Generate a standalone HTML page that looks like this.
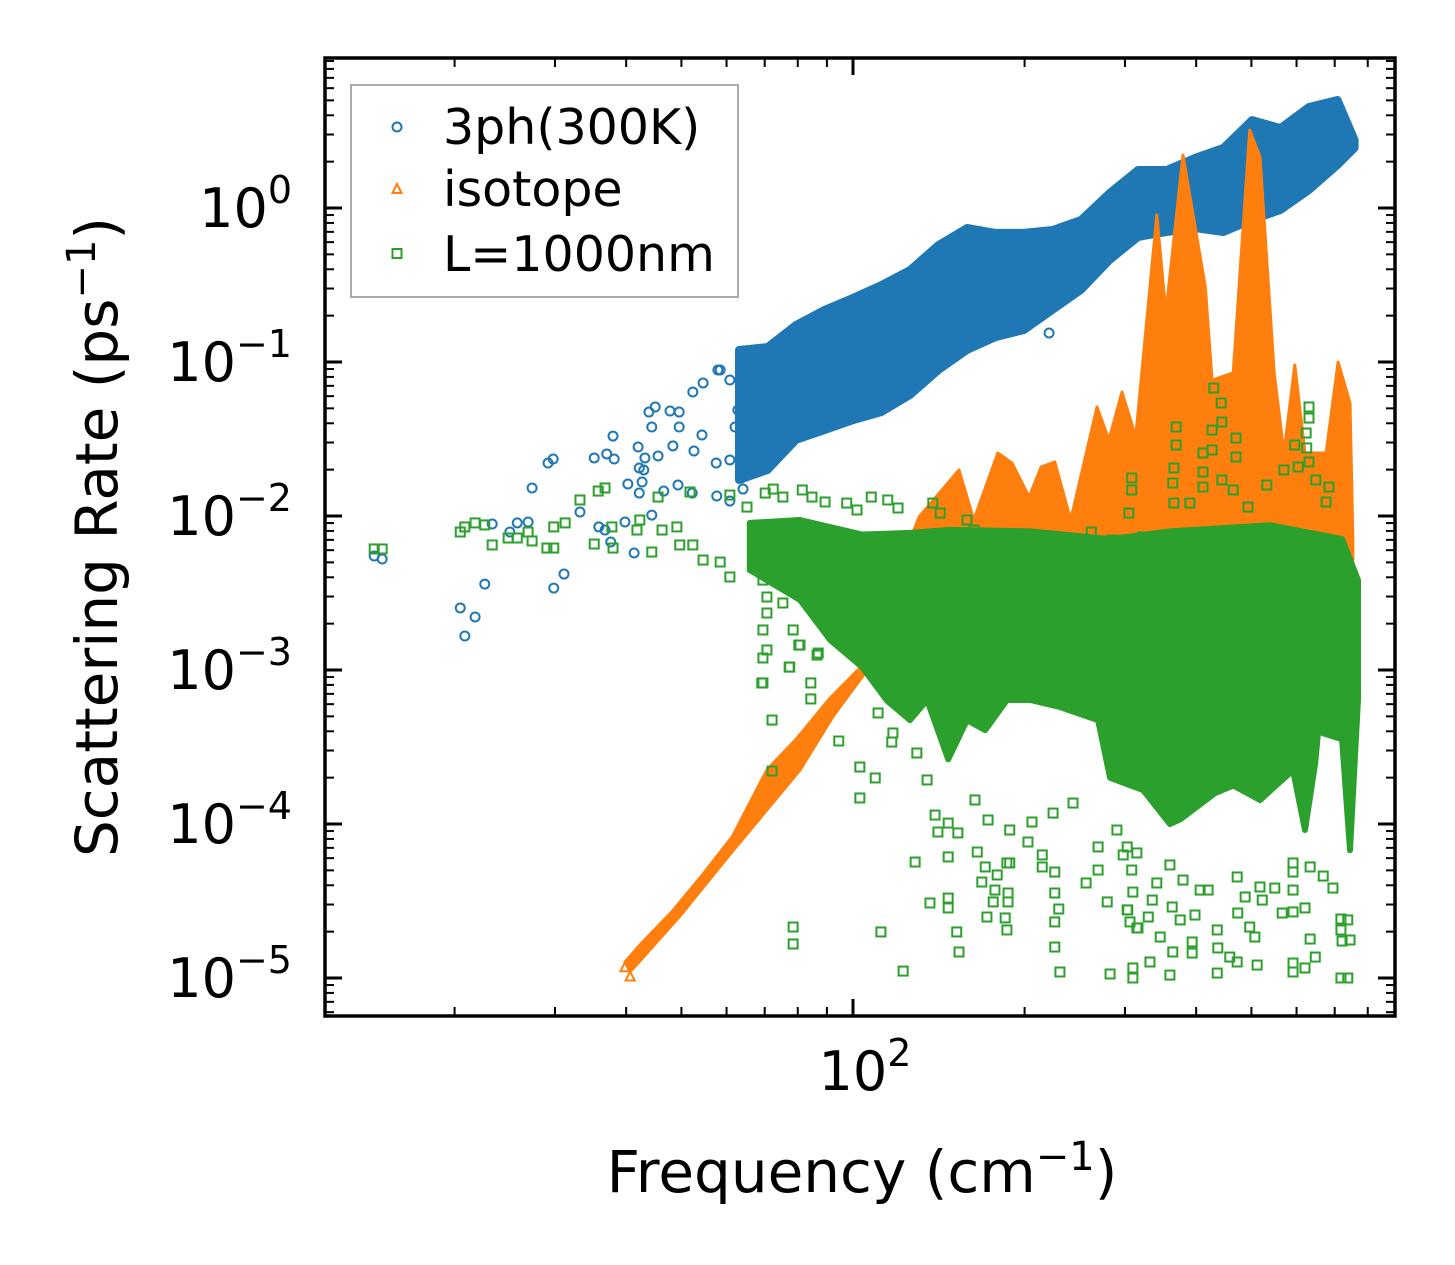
<!DOCTYPE html>
<html><head><meta charset="utf-8"><title>Scattering Rate vs Frequency</title>
<style>
html,body{margin:0;padding:0;background:#fff;}
svg{display:block;font-family:"DejaVu Sans","Liberation Sans",sans-serif;}
</style></head>
<body>
<svg id="chart" xmlns="http://www.w3.org/2000/svg" width="1455" height="1265" viewBox="0 0 1455 1265">
<rect x="0" y="0" width="1455" height="1265" fill="#fff"/>
<defs><clipPath id="clip"><rect x="325" y="58" width="1070" height="958"/></clipPath></defs>
<g id="plot" clip-path="url(#clip)"></g>
<g id="axes"></g>
<text transform="translate(117,537) rotate(-90)" text-anchor="middle" font-size="58" fill="#000">Scattering Rate (ps<tspan font-size="40" dy="-22">−1</tspan><tspan dy="22">)</tspan></text>
<text x="862" y="1192" text-anchor="middle" font-size="58" fill="#000">Frequency (cm<tspan font-size="40" dy="-22">−1</tspan><tspan dy="22">)</tspan></text>
<g>
<rect x="351" y="85" width="387" height="212" fill="#fff" fill-opacity="0.8" stroke="#aaa" stroke-width="2"/>
<g>
<circle cx="397" cy="127" r="4.5" fill="none" stroke="#1f77b4" stroke-width="2"/>
<text x="443" y="144" font-size="49" fill="#000">3ph(300K)</text></g>
<g>
<polygon points="397,184 392.5,193 401.5,193" fill="none" stroke="#ff7f0e" stroke-width="2"/>
<text x="443" y="206" font-size="49" fill="#000">isotope</text></g>
<g>
<rect x="392.5" y="249" width="9" height="9" fill="none" stroke="#2ca02c" stroke-width="2"/>
<text x="443" y="271" font-size="49" fill="#000">L=1000nm</text></g>
</g>
</svg>
<script>
// All values are log10(frequency / cm^-1) and log10(rate / ps^-1)
const yMajorTicks = [-5, -4, -3, -2, -1, 0];
const yTickLabels = ["−5", "−4", "−3", "−2", "−1", "0"];
const xMajorTicks = [2];
const xTickLabels = ["2"];

// 3ph dense band
const blueBandFreq = [1.80,1.85,1.90,1.95,2.00,2.05,2.10,2.15,2.20,2.25,2.30,2.35,2.40,2.45,2.50,2.55,2.60,2.65,2.70,2.75,2.80,2.85,2.88];
const blueBandHigh = [-0.922,-0.903,-0.760,-0.662,-0.584,-0.500,-0.403,-0.240,-0.130,-0.162,-0.162,-0.143,-0.078,0.097,0.247,0.247,0.325,0.390,0.571,0.519,0.656,0.701,0.442];
const blueBandLow = [-1.766,-1.701,-1.506,-1.442,-1.377,-1.325,-1.214,-1.052,-0.922,-0.838,-0.792,-0.662,-0.532,-0.338,-0.188,-0.156,-0.130,-0.156,-0.078,-0.013,0.117,0.279,0.390];
// 3ph individual points
const blueFreq = [1.160,1.174,1.354,1.311,1.337,1.319,1.475,1.493,1.367,1.411,1.430,1.398,1.437,1.465,1.474,1.521,1.546,1.568,1.581,1.579,1.605,1.625,1.630,1.625,1.633,1.623,1.635,1.658,1.647,1.642,1.653,1.679,1.695,1.695,1.684,1.721,1.735,1.737,1.719,1.668,1.693,1.718,1.554,1.565,1.575,1.600,1.616,1.647,1.761,1.784,1.807,1.804,1.819,1.816,1.767,1.784,1.760,1.784,1.793,1.798,1.805,2.296,2.344,1.763];
const blueRate = [-2.260,-2.279,-2.442,-2.597,-2.656,-2.779,-2.468,-2.377,-2.052,-2.045,-2.039,-2.104,-1.818,-1.656,-1.630,-1.974,-1.623,-1.597,-1.630,-1.481,-1.792,-1.851,-1.779,-1.688,-1.701,-1.552,-1.623,-1.610,-1.422,-1.325,-1.292,-1.318,-1.325,-1.422,-1.545,-1.578,-1.474,-1.136,-1.195,-1.838,-1.799,-1.851,-2.071,-2.091,-2.169,-2.039,-2.240,-1.994,-1.870,-1.903,-1.825,-1.753,-1.721,-0.981,-1.052,-1.117,-1.656,-1.636,-1.422,-1.312,-1.227,-0.747,-0.812,-1.052];

// isotope envelope
const orangeUpperFreq = [1.600,1.626,1.682,1.737,1.789,1.849,1.902,1.960,2.012,2.116,2.186,2.212,2.254,2.279,2.309,2.330,2.354,2.382,2.428,2.449,2.472,2.496,2.533,2.549,2.579,2.618,2.630,2.667,2.696,2.714,2.739,2.756,2.775,2.793,2.830,2.851,2.872,2.877];
const orangeUpperRate = [-4.896,-4.786,-4.571,-4.325,-4.078,-3.649,-3.442,-3.182,-2.987,-2.006,-1.701,-2.026,-1.591,-1.656,-1.877,-1.682,-1.649,-2.026,-1.292,-1.506,-1.195,-1.487,-0.045,-0.682,0.344,-0.513,-1.117,-1.071,0.506,0.331,-1.071,-1.591,-1.019,-1.591,-1.591,-1.000,-1.266,-2.156];
const orangeLowerFreq = [2.877,2.616,2.254,2.025,1.965,1.907,1.779,1.696,1.609];
const orangeLowerRate = [-2.286,-2.900,-2.900,-3.000,-3.300,-3.650,-4.220,-4.600,-4.960];
const orangeFreq = [2.863,2.868,1.600,1.609];
const orangeRate = [-2.318,-2.532,-4.930,-4.990];

// L=1000nm dense core
const greenUpperFreq = [1.819,1.907,2.016,2.100,2.170,2.311,2.451,2.556,2.732,2.858,2.886];
const greenUpperRate = [-2.045,-2.026,-2.120,-2.110,-2.090,-2.100,-2.150,-2.100,-2.060,-2.150,-2.416];
const greenLowerFreq = [2.886,2.872,2.858,2.816,2.811,2.793,2.772,2.714,2.667,2.635,2.574,2.556,2.509,2.451,2.430,2.363,2.311,2.270,2.232,2.200,2.167,2.130,2.100,2.060,2.016,1.960,1.907,1.819];
const greenLowerRate = [-3.190,-4.170,-3.450,-3.400,-3.600,-4.039,-3.650,-3.844,-3.750,-3.800,-3.970,-4.000,-3.780,-3.700,-3.325,-3.240,-3.195,-3.195,-3.390,-3.325,-3.580,-3.195,-3.325,-3.200,-2.981,-2.805,-2.545,-2.351];
// L=1000nm individual points
const greenFreq = [1.160,1.174,1.311,1.319,1.337,1.354,1.367,1.395,1.411,1.430,1.437,1.463,1.475,1.475,1.495,1.521,1.553,1.565,1.546,1.577,1.579,1.626,1.621,1.647,1.658,1.665,1.691,1.696,1.714,1.719,1.737,1.767,1.784,1.784,1.814,1.842,1.849,1.849,1.842,1.849,1.842,1.842,1.877,1.895,1.907,1.889,1.937,1.846,1.860,1.877,1.911,1.928,1.951,1.989,
1.840,1.858,1.926,1.926,1.888,1.905,1.939,1.975,1.895,1.895,1.858,
2.044,2.070,2.068,2.012,2.039,2.012,2.112,2.130,2.144,2.167,2.149,2.184,2.167,2.109,2.135,2.167,2.167,2.049,2.182,2.186,2.088,2.218,2.232,2.253,2.226,2.249,2.272,2.246,2.272,2.235,2.267,2.270,2.214,2.237,2.275,2.314,2.307,2.332,2.275,2.332,2.354,2.354,2.361,2.354,2.354,2.363,2.430,2.474,2.430,2.409,2.446,2.451,2.386,2.351,2.463,2.481,2.489,2.491,2.525,2.481,2.486,2.518,2.500,2.539,2.521,2.491,2.491,2.556,2.561,2.574,2.560,2.600,2.595,2.595,2.639,2.640,2.661,2.674,2.639,2.675,2.674,2.623,2.709,2.705,2.696,2.753,2.772,2.793,2.772,2.772,2.793,2.811,2.802,2.772,2.802,2.825,2.842,2.856,2.856,2.858,2.856,2.772,2.772,2.714,2.740,2.718,2.688,2.609,2.579,2.556,2.498,2.533,2.482,2.498,2.270,2.868,2.872,2.868,
2.633,2.646,2.647,2.630,2.672,2.672,2.630,2.614,2.800,2.800,2.795,2.796,2.775,2.800,2.567,2.567,2.563,2.561,2.489,2.489,2.614,2.647,2.726,2.756,2.781,2.812,2.835,2.614,2.667,2.693,2.830,2.563,2.591,2.418,2.454,2.484,2.509,2.140,2.153,2.007,2.032,2.061,2.079,2.200,2.212];
const greenRate = [-2.214,-2.214,-2.104,-2.071,-2.045,-2.058,-2.188,-2.143,-2.143,-2.104,-2.162,-2.208,-2.208,-2.071,-2.045,-1.896,-1.838,-1.818,-2.182,-2.071,-2.208,-2.026,-2.091,-2.234,-1.877,-2.091,-2.071,-2.188,-1.844,-2.188,-2.286,-2.299,-2.396,-1.864,-1.942,-2.416,-2.526,-2.630,-2.740,-2.870,-2.922,-3.084,-2.565,-2.740,-2.838,-2.981,-2.903,-1.851,-1.825,-1.877,-1.831,-1.877,-1.909,-1.916,
-3.084,-3.325,-3.084,-3.188,-2.981,-2.838,-2.890,-3.461,-4.669,-4.779,-3.656,
-3.279,-3.409,-3.468,-3.630,-3.701,-3.831,-3.539,-3.714,-3.942,-3.994,-4.052,-4.058,-4.214,-4.247,-4.513,-4.481,-4.545,-4.701,-4.701,-4.831,-4.955,-4.182,-4.279,-4.331,-4.377,-4.429,-4.448,-4.506,-4.506,-4.604,-4.610,-4.688,-3.844,-3.974,-4.039,-3.987,-4.117,-4.201,-4.253,-4.279,-4.312,-4.448,-4.552,-4.636,-4.799,-4.961,-4.149,-4.201,-4.299,-4.383,-4.506,-4.974,-3.864,-3.929,-4.039,-4.149,-4.299,-4.442,-4.494,-4.558,-4.636,-4.604,-4.675,-4.734,-4.896,-4.935,-5.000,-4.981,-4.831,-4.623,-4.539,-4.591,-4.766,-4.838,-4.688,-4.805,-4.864,-4.896,-4.968,-4.578,-4.344,-4.429,-4.916,-4.734,-4.669,-4.578,-4.571,-4.545,-4.903,-4.961,-4.935,-4.864,-4.747,-4.429,-4.279,-4.338,-4.416,-4.617,-4.688,-4.760,-5.000,-4.312,-4.253,-4.409,-4.416,-4.494,-4.474,-4.429,-4.364,-4.266,-4.188,-4.383,-4.558,-4.675,-4.253,-4.623,-4.753,-5.000,
-1.169,-1.266,-1.390,-1.442,-1.494,-1.617,-1.571,-1.591,-1.292,-1.364,-1.461,-1.558,-1.539,-1.649,-1.422,-1.539,-1.688,-1.786,-1.753,-1.831,-1.714,-1.766,-1.799,-1.701,-1.682,-1.766,-1.812,-1.812,-1.831,-1.942,-1.909,-1.916,-1.916,-2.104,-2.156,-1.981,-2.136,-1.916,-1.981,-1.961,-1.877,-1.896,-1.948,-2.026,-2.091];

const NS = "http://www.w3.org/2000/svg";
const X0 = 853, XD = 570, Y0 = 208, YD = 154;
function xs(lf){ return X0 + XD*(lf-2); }
function ys(lr){ return Y0 - YD*lr; }
function mk(tag, attrs, parent){
  const e = document.createElementNS(NS, tag);
  for (const k in attrs) e.setAttribute(k, attrs[k]);
  parent.appendChild(e);
  return e;
}
const plot = document.getElementById('plot');
const axes = document.getElementById('axes');

function band(fu, ru, fl, rl, color, name, sw){
  const pts = [];
  for (let i=0;i<fu.length;i++) pts.push(xs(fu[i]).toFixed(1)+','+ys(ru[i]).toFixed(1));
  for (let i=0;i<fl.length;i++) pts.push(xs(fl[i]).toFixed(1)+','+ys(rl[i]).toFixed(1));
  const p = mk('polygon', {points: pts.join(' '), fill: color, stroke: color, 'stroke-width': sw, 'stroke-linejoin': 'round'}, plot);
  
  
}

// blue
const bandRev = blueBandFreq.slice().reverse();
const lowRev = blueBandLow.slice().reverse();
band(blueBandFreq, blueBandHigh, bandRev, lowRev, '#1f77b4', 'series-3ph-dense', 8);
const gBlue = mk('g', {}, plot);


for (let i=0;i<blueFreq.length;i++){
  const c = mk('circle', {cx: xs(blueFreq[i]), cy: ys(blueRate[i]), r: 4.5, fill: 'none', stroke: '#1f77b4', 'stroke-width': 2}, gBlue);
  
  
}
// orange
band(orangeUpperFreq, orangeUpperRate, orangeLowerFreq, orangeLowerRate, '#ff7f0e', 'series-isotope-dense', 3);
const gOr = mk('g', {}, plot);


for (let i=0;i<orangeFreq.length;i++){
  const x = xs(orangeFreq[i]), y = ys(orangeRate[i]);
  const t = mk('polygon', {points: `${x},${y-5} ${x-4.5},${y+4} ${x+4.5},${y+4}`, fill: 'none', stroke: '#ff7f0e', 'stroke-width': 2}, gOr);
  
  
}
// green
band(greenUpperFreq, greenUpperRate, greenLowerFreq, greenLowerRate, '#2ca02c', 'series-boundary-dense', 6);
const gGr = mk('g', {}, plot);


for (let i=0;i<greenFreq.length;i++){
  const s = mk('rect', {x: xs(greenFreq[i])-4.5, y: ys(greenRate[i])-4.5, width: 9, height: 9, fill: 'none', stroke: '#2ca02c', 'stroke-width': 2}, gGr);
  
  
}

// axes frame
const L = 325, R = 1395, T = 58, B = 1016;
const frame = mk('rect', {x: L, y: T, width: R-L, height: B-T, fill: 'none', stroke: '#000', 'stroke-width': 3.5}, axes);



function tick(x1,y1,x2,y2,w,name){
  const t = mk('line', {x1, y1, x2, y2, stroke: '#000', 'stroke-width': w}, axes);
  
  
}
// y ticks
for (let k=-6;k<=0;k++){
  for (let m=2;m<=9;m++){
    const v = k + Math.log10(m);
    const y = ys(v);
    if (y < T+2 || y > B-2) continue;
    tick(L, y, L+9, y, 2, 'y-minor-tick');
    tick(R, y, R-9, y, 2, 'y-minor-tick');
  }
}
for (let i=0;i<yMajorTicks.length;i++){
  const y = ys(yMajorTicks[i]);
  tick(L, y, L+17, y, 3, 'y-major-tick');
  tick(R, y, R-17, y, 3, 'y-major-tick');
  const t = mk('text', {x: 292, y: y+19, 'text-anchor': 'end', 'font-size': 54, fill: '#000'}, axes);
  
  
  t.innerHTML = '10<tspan font-size="38" dy="-24">' + yTickLabels[i] + '</tspan>';
}
// x ticks
for (let k=1;k<=2;k++){
  for (let m=2;m<=9;m++){
    const x = xs(k + Math.log10(m));
    if (x < L+2 || x > R-2) continue;
    tick(x, B, x, B-9, 2, 'x-minor-tick');
    tick(x, T, x, T+9, 2, 'x-minor-tick');
  }
}
for (let i=0;i<xMajorTicks.length;i++){
  const x = xs(xMajorTicks[i]);
  tick(x, B, x, B-17, 3, 'x-major-tick');
  tick(x, T, x, T+17, 3, 'x-major-tick');
  const t = mk('text', {x: x+12, y: 1090, 'text-anchor': 'middle', 'font-size': 54, fill: '#000'}, axes);
  
  
  t.innerHTML = '10<tspan font-size="38" dy="-24">' + xTickLabels[i] + '</tspan>';
}
</script>
</body></html>
